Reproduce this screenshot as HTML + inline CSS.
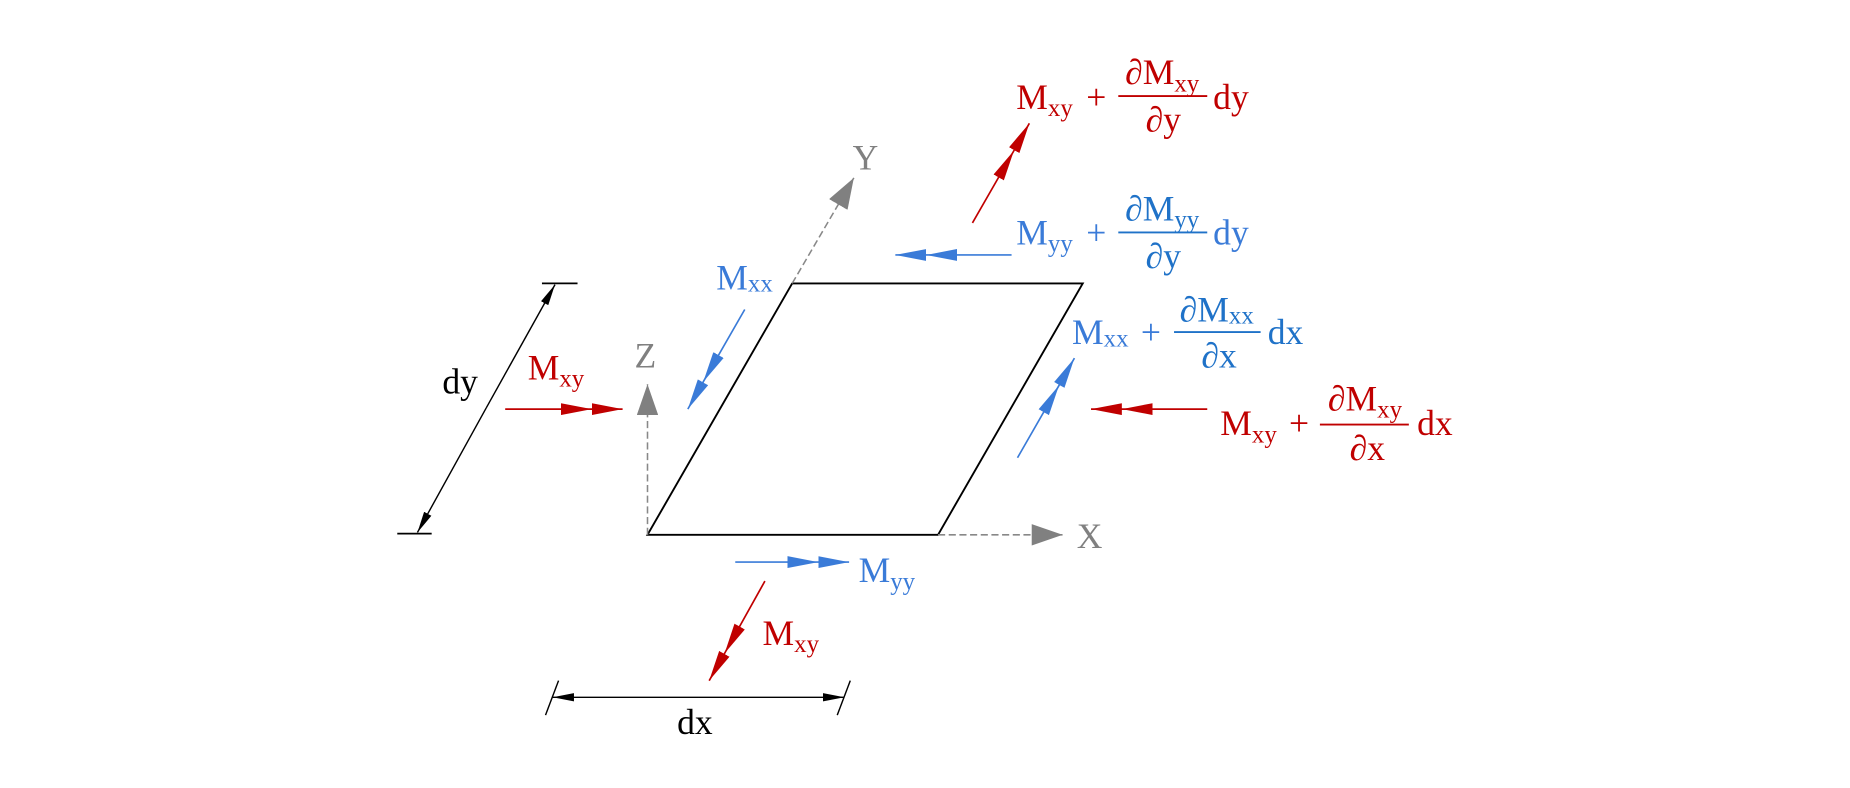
<!DOCTYPE html>
<html><head><meta charset="utf-8"><style>
html,body{margin:0;padding:0;background:#fff;}
svg{display:block;}
text{font-family:"Liberation Serif",serif;}
</style></head><body>
<svg width="1850" height="788" viewBox="0 0 1560 664.5" preserveAspectRatio="none" xmlns="http://www.w3.org/2000/svg">
<defs>
<marker id="r" markerUnits="userSpaceOnUse" markerWidth="26" markerHeight="10" refX="26" refY="5" orient="auto"><path d="M0,0 L26,5 L0,10 z" fill="#c00000"/></marker>
<marker id="b" markerUnits="userSpaceOnUse" markerWidth="26" markerHeight="10" refX="26" refY="5" orient="auto"><path d="M0,0 L26,5 L0,10 z" fill="#3a7bd8"/></marker>
<marker id="k" markerUnits="userSpaceOnUse" markerWidth="18" markerHeight="7" refX="18" refY="3.5" orient="auto"><path d="M0,0 L18,3.5 L0,7 z" fill="#000"/></marker>
<marker id="g" markerUnits="userSpaceOnUse" markerWidth="26" markerHeight="18" refX="26" refY="9" orient="auto"><path d="M0,0 L26,9 L0,18 z" fill="#808080"/></marker>
</defs>
<g transform="translate(-2,-2)">
<polygon points="548,453 793,453 915,241 670,241" fill="none" stroke="#000" stroke-width="1.6"/>
<line x1="548" y1="453" x2="548" y2="326" stroke="#888" stroke-width="1.3" stroke-dasharray="6,3" marker-end="url(#g)"/>
<line x1="670" y1="241" x2="722" y2="152" stroke="#888" stroke-width="1.3" stroke-dasharray="6,3" marker-end="url(#g)"/>
<line x1="793" y1="453" x2="898" y2="453" stroke="#888" stroke-width="1.3" stroke-dasharray="6,3" marker-end="url(#g)"/>
<text x="537" y="312" font-size="30" fill="#808080">Z</text>
<text x="721" y="145" font-size="30" fill="#808080">Y</text>
<text x="910" y="464" font-size="30" fill="#808080">X</text>
<line x1="412" y1="346" x2="470" y2="242" stroke="#000" stroke-width="1.2" marker-end="url(#k)"/>
<line x1="412" y1="346" x2="354" y2="451" stroke="#000" stroke-width="1.2" marker-end="url(#k)"/>
<line x1="337" y1="452" x2="366" y2="452" stroke="#000" stroke-width="1.5"/>
<line x1="459" y1="241" x2="489" y2="241" stroke="#000" stroke-width="1.5"/>
<text x="375" y="334" font-size="30" fill="#000">dy</text>
<line x1="591" y1="590" x2="468" y2="590" stroke="#000" stroke-width="1.2" marker-end="url(#k)"/>
<line x1="591" y1="590" x2="714" y2="590" stroke="#000" stroke-width="1.2" marker-end="url(#k)"/>
<line x1="462" y1="605" x2="473" y2="576" stroke="#000" stroke-width="1.2"/>
<line x1="708" y1="605" x2="719" y2="576" stroke="#000" stroke-width="1.2"/>
<text x="573" y="621" font-size="30" fill="#000">dx</text>
<polyline points="428,347 501,347 527,347" fill="none" stroke="#c00000" stroke-width="1.4" marker-mid="url(#r)" marker-end="url(#r)"/>
<text x="447" y="322" font-size="30" fill="#c00000">M<tspan font-size="21" dy="6">xy</tspan></text>
<polyline points="630,263 595,324 582,347" fill="none" stroke="#3a7bd8" stroke-width="1.4" marker-mid="url(#b)" marker-end="url(#b)"/>
<text x="606" y="246" font-size="30" fill="#3a7bd8">M<tspan font-size="21" dy="2">xx</tspan></text>
<polyline points="855,217 783,217 757,217" fill="none" stroke="#3a7bd8" stroke-width="1.4" marker-mid="url(#b)" marker-end="url(#b)"/>
<text x="859" y="208" font-size="30" fill="#3a7bd8">M<tspan font-size="21" dy="6">yy</tspan></text>
<text x="918" y="208" font-size="30" fill="#3a7bd8">+</text>
<text x="982" y="188" font-size="30" fill="#1f72c8" text-anchor="middle">∂M<tspan font-size="21" dy="6">yy</tspan></text>
<line x1="945" y1="198" x2="1020" y2="198" stroke="#1f72c8" stroke-width="1.6"/>
<text x="983" y="228" font-size="30" fill="#1f72c8" text-anchor="middle">∂y</text>
<text x="1025" y="208" font-size="30" fill="#3a7bd8">dy</text>
<polyline points="822,190 857,129 870,106" fill="none" stroke="#c00000" stroke-width="1.4" marker-mid="url(#r)" marker-end="url(#r)"/>
<text x="859" y="94" font-size="30" fill="#c00000">M<tspan font-size="21" dy="6">xy</tspan></text>
<text x="918" y="94" font-size="30" fill="#c00000">+</text>
<text x="982" y="73" font-size="30" fill="#c00000" text-anchor="middle">∂M<tspan font-size="21" dy="6">xy</tspan></text>
<line x1="945" y1="83" x2="1020" y2="83" stroke="#c00000" stroke-width="1.6"/>
<text x="983" y="113" font-size="30" fill="#c00000" text-anchor="middle">∂y</text>
<text x="1025" y="94" font-size="30" fill="#c00000">dy</text>
<polyline points="860,388 895,327 908,304" fill="none" stroke="#3a7bd8" stroke-width="1.4" marker-mid="url(#b)" marker-end="url(#b)"/>
<text x="906" y="292" font-size="30" fill="#3a7bd8">M<tspan font-size="21" dy="2">xx</tspan></text>
<text x="964" y="292" font-size="30" fill="#3a7bd8">+</text>
<text x="1028" y="273" font-size="30" fill="#1f72c8" text-anchor="middle">∂M<tspan font-size="21" dy="2">xx</tspan></text>
<line x1="992" y1="282" x2="1065" y2="282" stroke="#1f72c8" stroke-width="1.6"/>
<text x="1030" y="312" font-size="30" fill="#1f72c8" text-anchor="middle">∂x</text>
<text x="1071" y="292" font-size="30" fill="#1f72c8">dx</text>
<polyline points="1020,347 948,347 922,347" fill="none" stroke="#c00000" stroke-width="1.4" marker-mid="url(#r)" marker-end="url(#r)"/>
<text x="1031" y="369" font-size="30" fill="#c00000">M<tspan font-size="21" dy="6">xy</tspan></text>
<text x="1089" y="369" font-size="30" fill="#c00000">+</text>
<text x="1153" y="348" font-size="30" fill="#c00000" text-anchor="middle">∂M<tspan font-size="21" dy="6">xy</tspan></text>
<line x1="1115" y1="360" x2="1190" y2="360" stroke="#c00000" stroke-width="1.6"/>
<text x="1155" y="390" font-size="30" fill="#c00000" text-anchor="middle">∂x</text>
<text x="1197" y="369" font-size="30" fill="#c00000">dx</text>
<polyline points="622,476 692,476 718,476" fill="none" stroke="#3a7bd8" stroke-width="1.4" marker-mid="url(#b)" marker-end="url(#b)"/>
<text x="726" y="493" font-size="30" fill="#3a7bd8">M<tspan font-size="21" dy="6">yy</tspan></text>
<polyline points="647,492 613,553 600,576" fill="none" stroke="#c00000" stroke-width="1.4" marker-mid="url(#r)" marker-end="url(#r)"/>
<text x="645" y="546" font-size="30" fill="#c00000">M<tspan font-size="21" dy="6">xy</tspan></text>
</g>
</svg>
</body></html>
